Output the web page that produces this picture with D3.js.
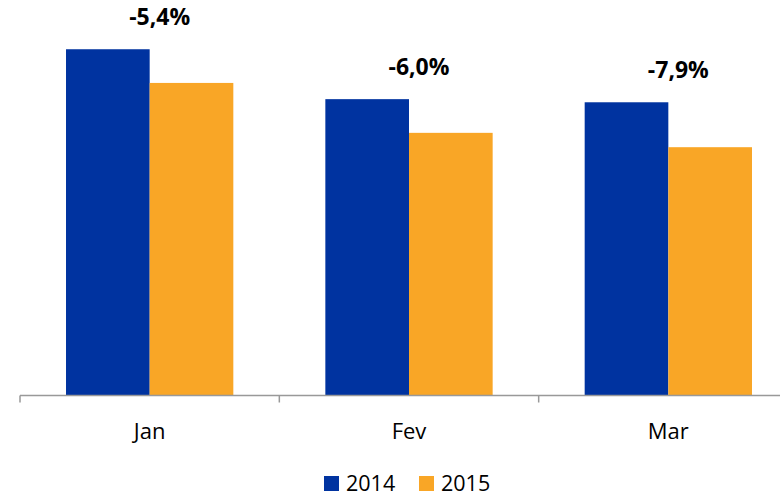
<!DOCTYPE html>
<html>
<head>
<meta charset="utf-8">
<script src="https://cdn.jsdelivr.net/npm/d3@7"></script>
<style>
body { margin:0; background:#fff; }
svg text { font-family:"Open Sans", sans-serif; fill:#000; }
</style>
</head>
<body>
<svg id="chart" width="780" height="497"></svg>
<script>
var months = ["Jan","Fev","Mar"];
var years = ["2014","2015"];
var values2014 = [996, 916, 911];
var values2015 = [942, 862, 839];
var changeLabels = ["-5,4%","-6,0%","-7,9%"];
var colors = ["#0033a0","#f9a626"];

var svg = d3.select("#chart");
var baseline = 395.5;

var x = d3.scaleBand()
	.domain(months)
	.range([20, 798]);

var xInner = d3.scaleBand()
	.domain(years)
	.range([0, x.bandwidth()])
	.paddingInner(0)
	.paddingOuter(0.55);

// axis does not start at zero in the original
var y = d3.scaleLinear()
	.domain([441, 1002])
	.range([baseline, baseline - 350]);

var rows = months.map(function(m, i) {
	return {month:m, vals:[values2014[i], values2015[i]], label:changeLabels[i]};
});

var groups = svg.selectAll("g.month")
	.data(rows)
	.enter().append("g")
	.attr("class","month")
	.attr("transform", d => "translate(" + x(d.month) + ",0)");

groups.selectAll("rect")
	.data(d => d.vals.map((v, j) => ({year:years[j], v:v})))
	.enter().append("rect")
	.attr("x", d => xInner(d.year))
	.attr("y", d => y(d.v))
	.attr("width", xInner.bandwidth())
	.attr("height", d => baseline - y(d.v))
	.attr("fill", (d, j) => colors[j]);

groups.append("text")
	.attr("x", x.bandwidth() / 2 + 10)
	.attr("y", d => y(d.vals[0]) - 24)
	.attr("text-anchor","middle")
	.style("font-size","23px")
	.style("font-weight","bold")
	.text(d => d.label);

var axisG = svg.append("g")
	.attr("transform","translate(0," + baseline + ")");
axisG.append("line")
	.attr("x1", 20).attr("x2", 798)
	.attr("stroke","#999").attr("stroke-width",1.5);
axisG.selectAll("line.tick")
	.data(months.concat(["end"]))
	.enter().append("line")
	.attr("class","tick")
	.attr("x1", (d, i) => 20 + i * x.step())
	.attr("x2", (d, i) => 20 + i * x.step())
	.attr("y1", 0).attr("y2", 7)
	.attr("stroke","#999").attr("stroke-width",1.5);
axisG.selectAll("text.lab")
	.data(months)
	.enter().append("text")
	.attr("class","lab")
	.attr("x", d => x(d) + x.bandwidth() / 2)
	.attr("y", 43)
	.attr("text-anchor","middle")
	.style("font-size","22px")
	.text(d => d);

// legend
var legend = svg.append("g").attr("transform","translate(324,476)");
var li = legend.selectAll("g")
	.data(years)
	.enter().append("g")
	.attr("transform", (d, i) => "translate(" + (i * 95) + ",0)");
li.append("rect")
	.attr("width",15).attr("height",15)
	.attr("fill", (d, i) => colors[i]);
li.append("text")
	.attr("x",22).attr("y",14.5)
	.style("font-size","21.5px")
	.text(d => d);
</script>
</body>
</html>
